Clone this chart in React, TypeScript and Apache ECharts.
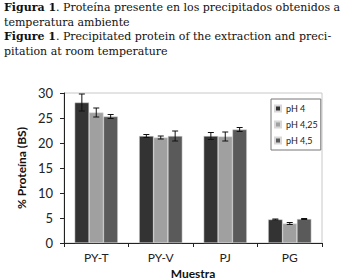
import React, { useEffect, useRef } from "react";
import * as echarts from "echarts";

const categories = ["PY-T", "PY-V", "PJ", "PG"];
const seriesNames = ["pH 4", "pH 4,25", "pH 4,5"];
const ph4 = [28.1, 21.4, 21.4, 4.7];
const ph425 = [26.1, 21.1, 21.3, 3.9];
const ph45 = [25.3, 21.4, 22.7, 4.8];
const err4 = [1.7, 0.3, 0.7, 0.1];
const err425 = [0.9, 0.3, 0.9, 0.2];
const err45 = [0.4, 1.0, 0.4, 0.1];
const yTicks = [0, 30, 5];
const colors = ["#333333", "#a0a0a0", "#5a5a5a"];

const titleLines = [
  { bold: "Figura 1", rest: ". Proteína presente en los precipitados obtenidos a" },
  { bold: "", rest: "temperatura ambiente" },
  { bold: "Figure 1", rest: ". Precipitated protein of the extraction and preci-" },
  { bold: "", rest: "pitation at room temperature" },
];

const values = [ph4, ph425, ph45];
const errors = [err4, err425, err45];

export default function App() {
  const ref = useRef<HTMLDivElement>(null);
  useEffect(() => {
    if (!ref.current) return;
    const chart = echarts.init(ref.current, null, { renderer: "svg" });
    const gapFrac = 0.33;
    const font = "Lato";
    const barSeries = seriesNames.map((name, i) => ({
      name,
      type: "bar",
      data: values[i],
      barGap: "0%",
      barCategoryGap: "33%",
      itemStyle: { color: colors[i], borderColor: "#d8d8d8", borderWidth: 0.5 },
      z: 2,
    }));
    const errSeries = seriesNames.map((name, i) => ({
      type: "custom",
      name: name + "_err",
      data: values[i].map((v, j) => [j, v, errors[i][j]]),
      z: 5,
      renderItem: (params: any, api: any) => {
        const cat = api.value(0);
        const v = api.value(1);
        const e = api.value(2);
        const band = api.size([1, 0])[0];
        const bw = (band * (1 - gapFrac)) / 3;
        const center = api.coord([cat, v]);
        const x = center[0] + (i - 1) * bw;
        const top = api.coord([cat, v + e])[1];
        const bot = api.coord([cat, v - e])[1];
        const cap = 3;
        const st = { stroke: "#111", lineWidth: 1 };
        return {
          type: "group",
          children: [
            { type: "line", shape: { x1: x, y1: top, x2: x, y2: bot }, style: st },
            { type: "line", shape: { x1: x - cap, y1: top, x2: x + cap, y2: top }, style: st },
            { type: "line", shape: { x1: x - cap, y1: bot, x2: x + cap, y2: bot }, style: st },
          ],
        };
      },
    }));
    const graphics = titleLines.map((l, k) => ({
      type: "text",
      left: 4,
      top: 2 + k * 14.5,
      style: {
        text: (l.bold ? "{b|" + l.bold + "}" : "") + "{r|" + l.rest + "}",
        rich: {
          b: { fontFamily: "DejaVu Serif", fontSize: 11, fontWeight: "bold", fill: "#111" },
          r: { fontFamily: "DejaVu Serif", fontSize: 11, fill: "#111" },
        },
      },
    }));
    chart.setOption({
      animation: false,
      graphic: graphics,
      grid: {
        left: 64,
        right: 22,
        top: 93,
        bottom: 37,
        show: true,
        borderColor: "#c8c8c8",
        borderWidth: 1,
        containLabel: false,
        outerBoundsMode: "none",
      },
      legend: {
        data: seriesNames,
        orient: "vertical",
        left: 271,
        top: 99,
        itemWidth: 6,
        itemHeight: 6,
        itemGap: 7,
        padding: [5, 3, 5, 3],
        borderColor: "#777",
        borderWidth: 1,
        backgroundColor: "#fff",
        icon: "rect",
        textStyle: { fontFamily: font, fontSize: 9, color: "#222" },
      },
      xAxis: {
        type: "category",
        data: categories,
        axisLine: { lineStyle: { color: "#222" } },
        axisTick: { show: true, length: 4, lineStyle: { color: "#222" } },
        axisLabel: { fontFamily: font, fontSize: 12, color: "#222", margin: 8 },
        name: "Muestra",
        nameLocation: "middle",
        nameGap: 16,
        nameTextStyle: { fontFamily: font, fontSize: 12, fontWeight: "bold", color: "#111", lineHeight: 12 },
      },
      yAxis: {
        type: "value",
        min: yTicks[0],
        max: yTicks[1],
        interval: yTicks[2],
        axisLine: { show: true, lineStyle: { color: "#222" } },
        axisTick: { show: true, length: 4, lineStyle: { color: "#222" } },
        splitLine: { show: false },
        axisLabel: { fontFamily: font, fontSize: 13, color: "#222", margin: 11 },
        name: "% Proteína (BS)",
        nameLocation: "middle",
        nameGap: 26,
        nameTextStyle: { fontFamily: font, fontSize: 12, fontWeight: "bold", color: "#111" },
      },
      series: [...barSeries, ...errSeries],
    });
    return () => chart.dispose();
  }, []);
  return <div ref={ref} style={{ position: "fixed", left: 0, top: 0, width: 344, height: 280, background: "#fff" }} />;
}
